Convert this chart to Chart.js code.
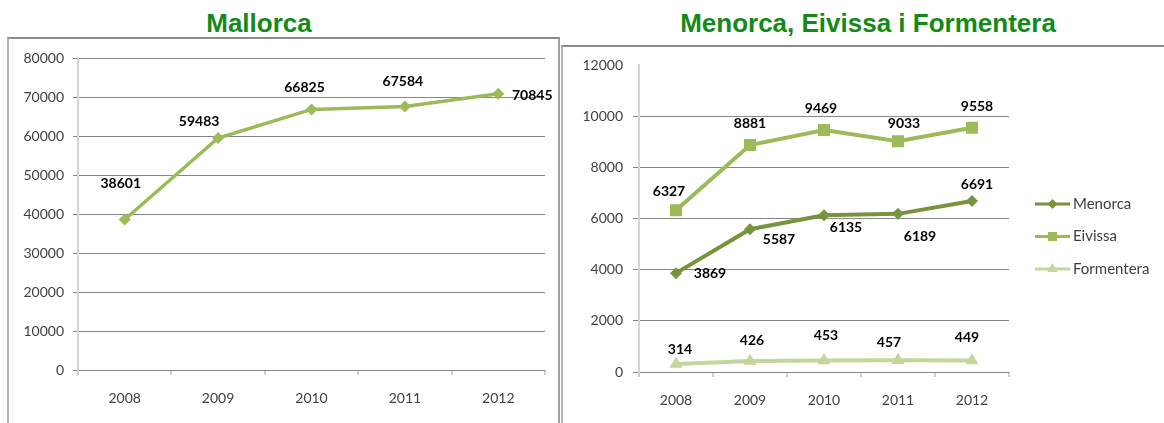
<!DOCTYPE html>
<html>
<head>
<meta charset="utf-8">
<script src="https://cdn.jsdelivr.net/npm/chart.js@4"></script>
<style>
body { margin: 0; background: #fff; width: 1164px; height: 423px; overflow: hidden; position: relative; }
.title { position: absolute; top: 8px; line-height: 30px; font: bold 26px "Liberation Sans", Arial, sans-serif; color: #138a17; white-space: nowrap; transform: translateX(-50%); }
.frame { position: absolute; border-top: 2px solid #8c8c8c; border-left: 2px solid #b4b4b4; border-right: 2px solid #a0a0a0; }
canvas { position: absolute; }
</style>
</head>
<body>
<div class="title" style="left:259px">Mallorca</div>
<div class="title" style="left:868px">Menorca, Eivissa i Formentera</div>
<div class="frame" style="left:7px;top:37px;width:549px;height:400px"></div>
<div class="frame" style="left:561px;top:45px;width:620px;height:400px"></div>
<canvas id="mallorcaChart" width="550" height="384" style="left:9px;top:39px"></canvas>
<canvas id="islandsChart" width="600" height="376" style="left:564px;top:47px"></canvas>
<script>
const years = ['2008', '2009', '2010', '2011', '2012'];
const mallorca = [38601, 59483, 66825, 67584, 70845];
const menorca = [3869, 5587, 6135, 6189, 6691];
const eivissa = [6327, 8881, 9469, 9033, 9558];
const formentera = [314, 426, 453, 457, 449];
const mallorcaTicks = [0, 10000, 20000, 30000, 40000, 50000, 60000, 70000, 80000];
const islandTicks = [0, 2000, 4000, 6000, 8000, 10000, 12000];

// where each value label sits, relative to its point (px)
const mallorcaLabelPos = [[-4, -36], [-19, -17], [-7, -22], [-2, -25], [34, 2]];
const menorcaLabelPos = [[34, 0], [29, 10], [22, 12], [22, 23], [5, -17]];
const eivissaLabelPos = [[-7, -19], [0, -22], [-3, -22], [6, -18], [5, -21]];
const formenteraLabelPos = [[4, -14], [2, -21], [2, -25], [-9, -18], [-5, -23]];

const tickFont = { family: 'Lato', size: 14 };

const valueLabels = {
    id: 'valueLabels',
    afterDatasetsDraw(chart) {
        const ctx = chart.ctx;
        ctx.save();
        ctx.font = 'bold 14px Lato';
        ctx.fillStyle = '#000';
        ctx.textAlign = 'center';
        ctx.textBaseline = 'middle';
        chart.data.datasets.forEach((ds, i) => {
            chart.getDatasetMeta(i).data.forEach((pt, j) => {
                const off = ds.labelPos[j];
                ctx.fillText(ds.data[j], pt.x + off[0], pt.y + off[1]);
            });
        });
        ctx.restore();
    }
};

const sideLegend = {
    id: 'sideLegend',
    afterDraw(chart) {
        const ctx = chart.ctx;
        ctx.save();
        chart.data.datasets.forEach((ds, i) => {
            const y = 157 + i * 32.5;
            ctx.strokeStyle = ds.borderColor;
            ctx.lineWidth = 3;
            ctx.beginPath();
            ctx.moveTo(471, y);
            ctx.lineTo(506, y);
            ctx.stroke();
            ctx.fillStyle = ds.pointBackgroundColor;
            Chart.helpers.drawPoint(ctx, { pointStyle: ds.pointStyle, radius: ds.legendRadius, rotation: 0, borderWidth: 0 }, 488.5, y);
            ctx.fillStyle = '#404040';
            ctx.font = '15px Lato';
            ctx.textAlign = 'left';
            ctx.textBaseline = 'middle';
            ctx.fillText(ds.label, 509, y);
        });
        ctx.restore();
    }
};

function makeChart(id, datasets, ticks, yWidth, xHeight, padding, tickLen, tickPad, extraPlugins) {
    const top = ticks[ticks.length - 1];
    return new Chart(document.getElementById(id), {
        type: 'line',
        data: { labels: years, datasets: datasets },
        options: {
            responsive: false,
            animation: false,
            devicePixelRatio: 1,
            layout: { padding: padding },
            plugins: { legend: { display: false }, tooltip: { enabled: false } },
            elements: { line: { tension: 0 } },
            scales: {
                x: {
                    offset: true,
                    afterFit: s => { s.height = xHeight; },
                    grid: { offset: true, drawOnChartArea: false, color: '#d0d0d0', lineWidth: 2, tickLength: 5 },
                    border: { display: false },
                    ticks: { font: tickFont, color: '#404040', padding: 15, maxRotation: 0 }
                },
                y: {
                    min: 0,
                    max: top,
                    afterBuildTicks: s => { s.ticks = ticks.map(v => ({ value: v })); },
                    afterFit: s => { s.width = yWidth; },
                    grid: {
                        color: c => (id === 'islandsChart' && c.tick && c.tick.value === top) ? 'rgba(0,0,0,0)' : '#868686',
                        lineWidth: 1,
                        tickLength: tickLen
                    },
                    border: { color: '#d4d4d4', width: 2 },
                    ticks: { font: tickFont, color: '#404040', padding: tickPad, callback: v => String(v) }
                }
            }
        },
        plugins: [valueLabels].concat(extraPlugins)
    });
}

makeChart('mallorcaChart', [{
    label: 'Mallorca',
    data: mallorca,
    labelPos: mallorcaLabelPos,
    borderColor: '#9bbb59',
    borderWidth: 3.5,
    pointStyle: 'rectRot',
    pointRadius: 6,
    pointBorderWidth: 0,
    pointBackgroundColor: '#9bbb59'
}], mallorcaTicks, 69, 53, { top: 19, right: 14, left: 0, bottom: 0 }, 5, 9, []);

makeChart('islandsChart', [{
    label: 'Menorca',
    data: menorca,
    labelPos: menorcaLabelPos,
    borderColor: '#77933c',
    borderWidth: 4,
    pointStyle: 'rectRot',
    pointRadius: 6,
    legendRadius: 5,
    pointBorderWidth: 0,
    pointBackgroundColor: '#77933c'
}, {
    label: 'Eivissa',
    data: eivissa,
    labelPos: eivissaLabelPos,
    borderColor: '#9bbb59',
    borderWidth: 4,
    pointStyle: 'rect',
    pointRadius: 8.5,
    legendRadius: 6.5,
    pointBorderWidth: 0,
    pointBackgroundColor: '#9bbb59'
}, {
    label: 'Formentera',
    data: formentera,
    labelPos: formenteraLabelPos,
    borderColor: '#c3d69b',
    borderWidth: 4,
    pointStyle: 'triangle',
    pointRadius: 7.5,
    legendRadius: 6,
    pointBorderWidth: 0,
    pointBackgroundColor: '#c3d69b'
}], islandTicks, 75, 51, { top: 18, right: 155, left: 0, bottom: 0 }, 6, 10, [sideLegend]);
</script>
</body>
</html>
